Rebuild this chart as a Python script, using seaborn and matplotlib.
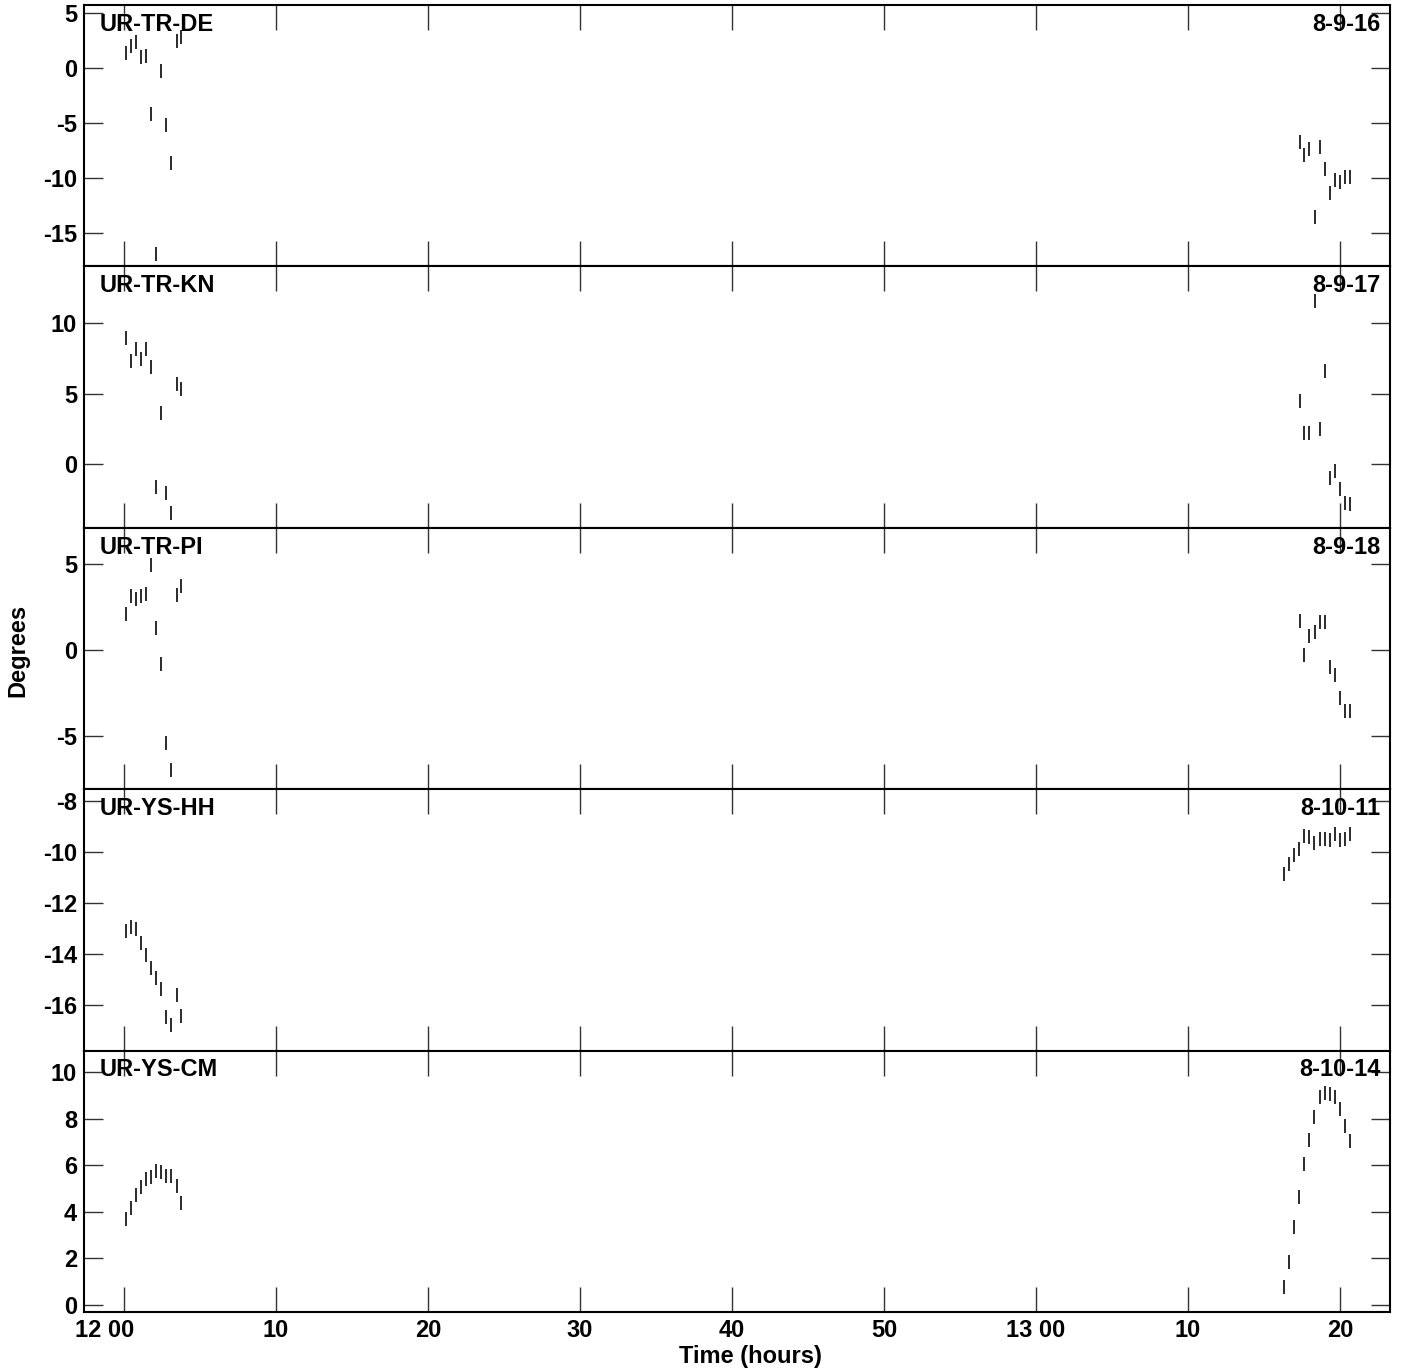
import numpy as np
import pandas as pd
import matplotlib
matplotlib.use("Agg")
import matplotlib.pyplot as plt
import seaborn as sns

sns.set_theme(style="ticks")
plt.rcParams['font.family'] = ['Liberation Sans', 'DejaVu Sans']
plt.rcParams['font.weight'] = 'bold'
plt.rcParams['text.color'] = 'black'
plt.rcParams['xtick.labelcolor'] = 'black'
plt.rcParams['ytick.labelcolor'] = 'black'

# Time in minutes after 12:00
t_left = [0.13, 0.44, 0.76, 1.10, 1.45, 1.76, 2.10, 2.43, 2.78, 3.11, 3.47, 3.75]
t_right_a = [77.37, 77.64, 78.00, 78.36, 78.68, 79.00, 79.34, 79.69, 80.00, 80.37, 80.70]
t_right_b = [76.34, 76.66, 76.99, 77.32, 77.65, 78.00, 78.33, 78.68, 79.00, 79.34,
             79.69, 80.00, 80.37, 80.70]

# Phase (degrees) per baseline
de_left = [1.4, 2.05, 2.4, 1.03, 1.1, -4.2, -16.9, -0.3, -5.2, -8.6, 2.5, 2.85]
de_right = [-6.7, -7.85, -7.3, -13.5, -7.15, -9.2, -11.3, -10.15, -10.3, -9.9, -9.9]
kn_left = [8.99, 7.29, 8.17, 7.5, 8.17, 6.88, -1.64, 3.64, -2.07, -3.55, 5.69, 5.36]
kn_right = [4.45, 2.21, 2.21, 11.57, 2.48, 6.6, -1.05, -0.5, -1.79, -2.81, -2.88]
pi_left = [2.1, 3.15, 2.97, 3.15, 3.24, 4.93, 1.27, -0.79, -5.38, -6.96, 3.21, 3.69]
pi_right = [1.71, -0.26, 0.79, 1.04, 1.61, 1.64, -0.97, -1.47, -2.8, -3.55, -3.55]
hh_left = [-13.09, -12.96, -13.01, -13.56, -14.04, -14.56, -14.95, -15.4, -16.5,
           -16.78, -15.63, -16.46]
hh_right = [-10.85, -10.48, -10.13, -9.89, -9.37, -9.43, -9.64, -9.5, -9.5, -9.53,
            -9.3, -9.55, -9.5, -9.3]
cm_left = [3.70, 4.18, 4.71, 5.08, 5.43, 5.51, 5.74, 5.72, 5.54, 5.55, 5.12, 4.37]
cm_right = [0.76, 1.84, 3.34, 4.64, 6.06, 7.11, 8.06, 8.92, 9.12, 9.08, 8.92, 8.42,
            7.68, 7.03]

baselines = ["UR-TR-DE", "UR-TR-KN", "UR-TR-PI", "UR-YS-HH", "UR-YS-CM"]
stamps = ["8-9-16", "8-9-17", "8-9-18", "8-10-11", "8-10-14"]
series = [
    (t_left + t_right_a, de_left + de_right),
    (t_left + t_right_a, kn_left + kn_right),
    (t_left + t_right_a, pi_left + pi_right),
    (t_left + t_right_b, hh_left + hh_right),
    (t_left + t_right_b, cm_left + cm_right),
]
ylims = [(-18.0, 5.73), (-4.57, 14.07), (-8.06, 7.08), (-17.8, -7.54), (-0.3, 10.93)]
yticks = [[-15, -10, -5, 0, 5], [0, 5, 10], [-5, 0, 5],
          [-16, -14, -12, -10, -8], [0, 2, 4, 6, 8, 10]]

xticks = [0, 10, 20, 30, 40, 50, 60, 70, 80]
xticklabels = ["12 00", "10", "20", "30", "40", "50", "13 00", "10", "20"]

FS = 17
W, H = 1404, 1370
fig = plt.figure(figsize=(W / 100, H / 100), dpi=100)
left, right = 84, 1390
top, bottom = 5, 1312
ph = (bottom - top) / 5

for i in range(5):
    y0 = top + i * ph
    ax = fig.add_axes([left / W, 1 - (y0 + ph) / H, (right - left) / W, ph / H])
    df = pd.DataFrame({"t": series[i][0], "deg": series[i][1]})
    sns.scatterplot(data=df, x="t", y="deg", ax=ax, marker='|', s=95,
                    linewidth=1.3, color='#1a1a1a')
    ax.set_xlim(-2.63, 83.3)
    ax.set_ylim(*ylims[i])
    ax.set_yticks(yticks[i])
    ax.set_yticklabels([str(v) for v in yticks[i]], fontsize=FS, fontweight='bold')
    ax.set_xticks(xticks)
    if i == 4:
        # first label sits a little left of its tick in the original
        ax.set_xticklabels([""] + xticklabels[1:], fontsize=FS, fontweight='bold')
        ax.annotate(xticklabels[0], xy=(xticks[0], 0), xycoords=('data', 'axes fraction'),
                    xytext=(-19, -7), textcoords='offset pixels', ha='center', va='top',
                    fontsize=FS, fontweight='bold')
    else:
        ax.set_xticklabels([])
    ax.tick_params(axis='x', direction='in', length=18, width=1, top=True,
                   bottom=True, pad=5, color='#333333')
    ax.tick_params(axis='y', direction='in', length=14, width=1, left=True,
                   right=True, pad=5, color='#333333')
    ax.set_xlabel("")
    ax.set_ylabel("")
    for sp in ax.spines.values():
        sp.set_linewidth(1.5)
        sp.set_color('black')
    ax.text(0.012, 0.97, baselines[i], transform=ax.transAxes, ha='left', va='top',
            fontsize=FS, fontweight='bold')
    ax.text(0.9925, 0.97, stamps[i], transform=ax.transAxes, ha='right', va='top',
            fontsize=FS, fontweight='bold')

fig.text(18 / W, 1 - 650 / H, "Degrees", rotation=90, ha='center', va='center',
         fontsize=FS, fontweight='bold')
fig.text(750 / W, 1 - 1356 / H, "Time (hours)", ha='center', va='center',
         fontsize=FS, fontweight='bold')

fig.savefig("out.png", dpi=100)
